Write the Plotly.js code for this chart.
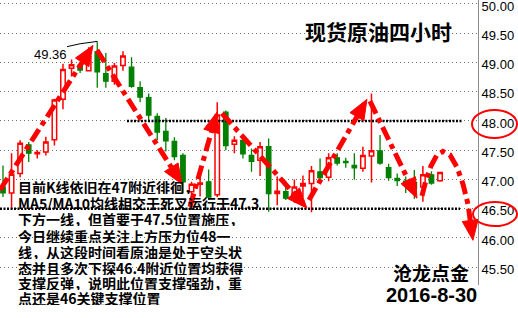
<!DOCTYPE html>
<html>
<head>
<meta charset="utf-8">
<script src="https://cdn.plot.ly/plotly-3.0.1.min.js"></script>
<style>
html,body{margin:0;padding:0;background:#fff;}
#chart{width:518px;height:318px;}
</style>
</head>
<body>
<div id="chart"></div>
<script>
// ---- data ----
const candleIndex = [0,1,2,3,4,5,6,7,8,9,10,11,12,13,14,15,16,17,18,19,20,21,22,23,24,25,
  26,27,28,29,30,31,32,33,34,35,36,37,38,39,40,41,42,43,44,45,46,47,48,49,50,51];
const openPrices = [46.87,46.77,47.10,47.59,47.44,47.47,47.68,48.37,48.90,48.95,48.86,49.18,48.81,48.68,48.95,48.92,
  48.57,48.40,48.08,47.82,47.65,47.41,46.79,46.92,46.96,46.74,48.15,47.60,47.67,47.41,47.33,47.56,46.76,46.79,46.68,
  46.89,46.93,47.13,47.04,47.37,47.31,47.24,47.19,47.40,47.49,47.20,47.02,46.97,46.95,46.87,47.08,46.98];
const highPrices = [47.24,47.45,47.67,47.64,47.50,47.73,48.38,48.98,49.05,48.98,49.26,49.36,49.16,48.99,49.19,49.09,
  48.68,48.47,48.13,48.05,47.72,47.45,46.96,47.16,47.17,48.32,48.18,47.74,47.74,47.53,47.64,47.70,47.05,46.98,47.00,
  47.07,47.23,47.36,47.45,47.45,47.37,47.45,47.56,48.47,47.76,47.27,47.10,47.05,47.16,47.23,47.14,47.13];
const lowPrices = [46.70,46.51,47.04,47.30,47.36,47.41,47.58,48.20,48.76,48.82,48.86,48.57,48.57,48.62,48.86,48.57,
  48.32,48.01,47.67,47.48,47.33,46.77,46.62,46.71,46.65,46.70,47.50,47.45,47.36,47.13,47.06,46.45,46.56,46.65,46.60,
  46.70,46.44,46.95,46.97,47.24,47.20,47.00,47.13,46.95,47.25,46.98,46.89,46.77,46.67,46.62,46.91,46.96];
const closePrices = [46.77,47.09,47.62,47.45,47.46,47.64,48.36,48.88,48.96,48.87,49.10,48.84,48.68,48.94,49.11,48.59,
  48.41,48.10,47.81,47.66,47.39,46.96,46.92,46.94,46.70,48.10,47.58,47.67,47.44,47.31,47.56,46.76,46.80,46.68,46.87,
  46.93,47.15,47.03,47.37,47.28,47.29,47.20,47.41,47.49,47.28,47.03,46.98,46.90,46.85,47.08,46.94,47.12];

const yTickValues = [45.5,46.0,46.5,47.0,47.5,48.0,48.5,49.0,49.5,50.0];
const yTickLabels = ['45.50','46.00','46.50','47.00','47.50','48.00','48.50','49.00','49.50','50.00'];

const resistanceLevel = 48.0;
const supportLevel = 46.5;
const peakLabel = '49.36';
const peakIndex = 11;
const peakPrice = 49.36;

const titleText = '现货原油四小时';
const brandText = '沧龙点金';
const dateText = '2016-8-30';
const commentLines = [
  '目前K线依旧在47附近徘徊，',
  'MA5/MA10均线相交于死叉运行于47.3',
  '下方一线，但首要于47.5位置施压，',
  '今日继续重点关注上方压力位48一',
  '线，从这段时间看原油是处于空头状',
  '态并且多次下探46.4附近位置均获得',
  '支撑反弹，说明此位置支撑强劲，重',
  '点还是46关键支撑位置'
];

// trend arrows drawn on the chart (index, price)
const arrowX = [
  [-0.35, 10.50],
  [10.97, 20.89],
  [21.82, 24.97],
  [25.55, 35.47],
  [35.71, 42.47],
  [42.82, 48.31],
  [48.89, 49.36, 49.94, 50.64, 51.34, 52.16, 52.98, 53.68, 54.26, 54.84]
];
const arrowY = [
  [46.82, 49.29],
  [49.21, 46.92],
  [46.53, 48.15],
  [48.13, 46.51],
  [46.65, 48.37],
  [48.34, 46.68],
  [46.72, 46.99, 47.23, 47.42, 47.48, 47.42, 47.21, 46.92, 46.58, 45.96]
];

// ---- layout geometry ----
const W = 518, H = 318;
const M = {l: 0, r: 40, t: 0, b: 33};
const plotW = W - M.l - M.r, plotH = H - M.t - M.b;
const xMin = -0.35, xMax = 55.43, yMin = 45.196, yMax = 50.068;
const sx = plotW / (xMax - xMin), sy = plotH / (yMax - yMin);
const px = p => p / plotW;          // pixel -> paper x
const py = p => 1 - p / plotH;      // pixel -> paper y

const RED = '#ff0000', GREEN = '#008000';

const shapes = [];
const annotations = [];

// black dotted key levels
shapes.push({type: 'line', xref: 'x', yref: 'y', x0: 14.47, x1: 53.56, y0: resistanceLevel, y1: resistanceLevel,
  line: {color: '#000', width: 2.5, dash: '2px,1.5px'}, layer: 'above'});
shapes.push({type: 'line', xref: 'x', yref: 'y', x0: xMin, x1: 53.33, y0: supportLevel, y1: supportLevel,
  line: {color: '#000', width: 2.5, dash: '2px,1.5px'}, layer: 'above'});

// arrows
const headLen = 20, headHalf = 8;
for (let k = 0; k < arrowX.length; k++) {
  const xs = arrowX[k], ys = arrowY[k], n = xs.length;
  const tx = xs[n-1], ty = ys[n-1];
  let dx = (tx - xs[n-2]) * sx, dy = (ty - ys[n-2]) * sy;   // pixel, y up
  const len = Math.hypot(dx, dy); dx /= len; dy /= len;
  const bx = tx - headLen * dx / sx, by = ty - headLen * dy / sy;
  let d = 'M ' + xs[0] + ',' + ys[0];
  for (let i = 1; i < n - 1; i++) d += ' L ' + xs[i] + ',' + ys[i];
  d += ' L ' + bx + ',' + by;
  shapes.push({type: 'path', xref: 'x', yref: 'y', path: d,
    line: {color: RED, width: 5, dash: '14px,5px,5px,5px'}, layer: 'above'});
  const nx = -dy, ny = dx;
  const p1x = -headLen * dx + headHalf * nx, p1y = -headLen * dy + headHalf * ny;
  const p2x = -headLen * dx - headHalf * nx, p2y = -headLen * dy - headHalf * ny;
  shapes.push({type: 'path', xref: 'x', yref: 'y', xsizemode: 'pixel', ysizemode: 'pixel',
    xanchor: tx, yanchor: ty,
    path: 'M 0,0 L ' + p1x.toFixed(2) + ',' + p1y.toFixed(2) + ' L ' + p2x.toFixed(2) + ',' + p2y.toFixed(2) + ' Z',
    fillcolor: RED, line: {color: RED, width: 1}, layer: 'above'});
}

// callout line to the 49.36 high
shapes.push({type: 'path', xref: 'x', yref: 'y',
  path: 'M 7.47,49.27 L 9.0,49.32 L ' + peakIndex + ',' + peakPrice,
  line: {color: '#000', width: 1}, layer: 'above'});

// red ellipses around the key levels on the axis
shapes.push({type: 'circle', xref: 'paper', yref: 'paper', x0: px(472), x1: px(517), y0: py(138), y1: py(110),
  line: {color: RED, width: 2}});
shapes.push({type: 'circle', xref: 'paper', yref: 'paper', x0: px(473), x1: px(517), y0: py(226), y1: py(202),
  line: {color: RED, width: 2}});

// texts
annotations.push({xref: 'paper', yref: 'paper', x: px(378), y: py(31), xanchor: 'center', yanchor: 'middle',
  text: titleText, showarrow: false,
  font: {family: 'Noto Sans CJK SC', size: 21, weight: 700, color: '#000'}});
annotations.push({xref: 'paper', yref: 'paper', x: px(431), y: py(271.5), xanchor: 'center', yanchor: 'middle',
  text: brandText, showarrow: false, height: 20, borderpad: 0,
  font: {family: 'Noto Sans CJK SC', size: 19, weight: 700, color: '#000'}});
annotations.push({xref: 'paper', yref: 'paper', x: px(431), y: py(294.5), xanchor: 'center', yanchor: 'middle',
  text: dateText, showarrow: false, height: 20, borderpad: 0,
  font: {family: 'Liberation Sans', size: 20, weight: 700, color: '#000'}});
annotations.push({xref: 'paper', yref: 'paper', x: px(50.5), y: py(54), xanchor: 'center', yanchor: 'middle',
  text: peakLabel, showarrow: false,
  font: {family: 'Liberation Sans', size: 13, color: '#000'}});

const lineY = [186, 202, 218.5, 235, 251, 267, 282.5, 297];
for (let i = 0; i < commentLines.length; i++) {
  annotations.push({xref: 'paper', yref: 'paper', x: px(18), y: py(lineY[i]), xanchor: 'left', yanchor: 'middle',
    text: commentLines[i], showarrow: false, height: 15, borderpad: 0, borderwidth: 0,
    font: {family: 'Noto Sans CJK SC', size: 14, weight: 700, color: '#000'}});
}

const trace = {
  type: 'candlestick',
  x: candleIndex,
  open: openPrices, high: highPrices, low: lowPrices, close: closePrices,
  increasing: {line: {color: RED, width: 1.5}, fillcolor: '#ffffff'},
  decreasing: {line: {color: GREEN, width: 1.3}, fillcolor: GREEN},
  whiskerwidth: 0,
  hoverinfo: 'skip'
};

const layout = {
  width: W, height: H,
  margin: M,
  paper_bgcolor: '#ffffff', plot_bgcolor: '#ffffff',
  showlegend: false,
  boxgap: 0.26,
  xaxis: {range: [xMin, xMax], visible: false, showgrid: false, zeroline: false,
    rangeslider: {visible: false}, fixedrange: true},
  yaxis: {range: [yMin, yMax], side: 'right', tickvals: yTickValues, ticktext: yTickLabels,
    showgrid: true, gridcolor: '#707070', gridwidth: 1, griddash: '1px,3px',
    showline: true, linecolor: '#8c8c8c', linewidth: 1, ticks: '', zeroline: false,
    ticklabeloverflow: 'allow', ticklabelshift: 2,
    tickfont: {family: 'Liberation Sans', size: 13, color: '#000'}, fixedrange: true},
  shapes: shapes,
  annotations: annotations
};

Plotly.newPlot('chart', [trace], layout, {displayModeBar: false, staticPlot: true});
</script>
</body>
</html>
